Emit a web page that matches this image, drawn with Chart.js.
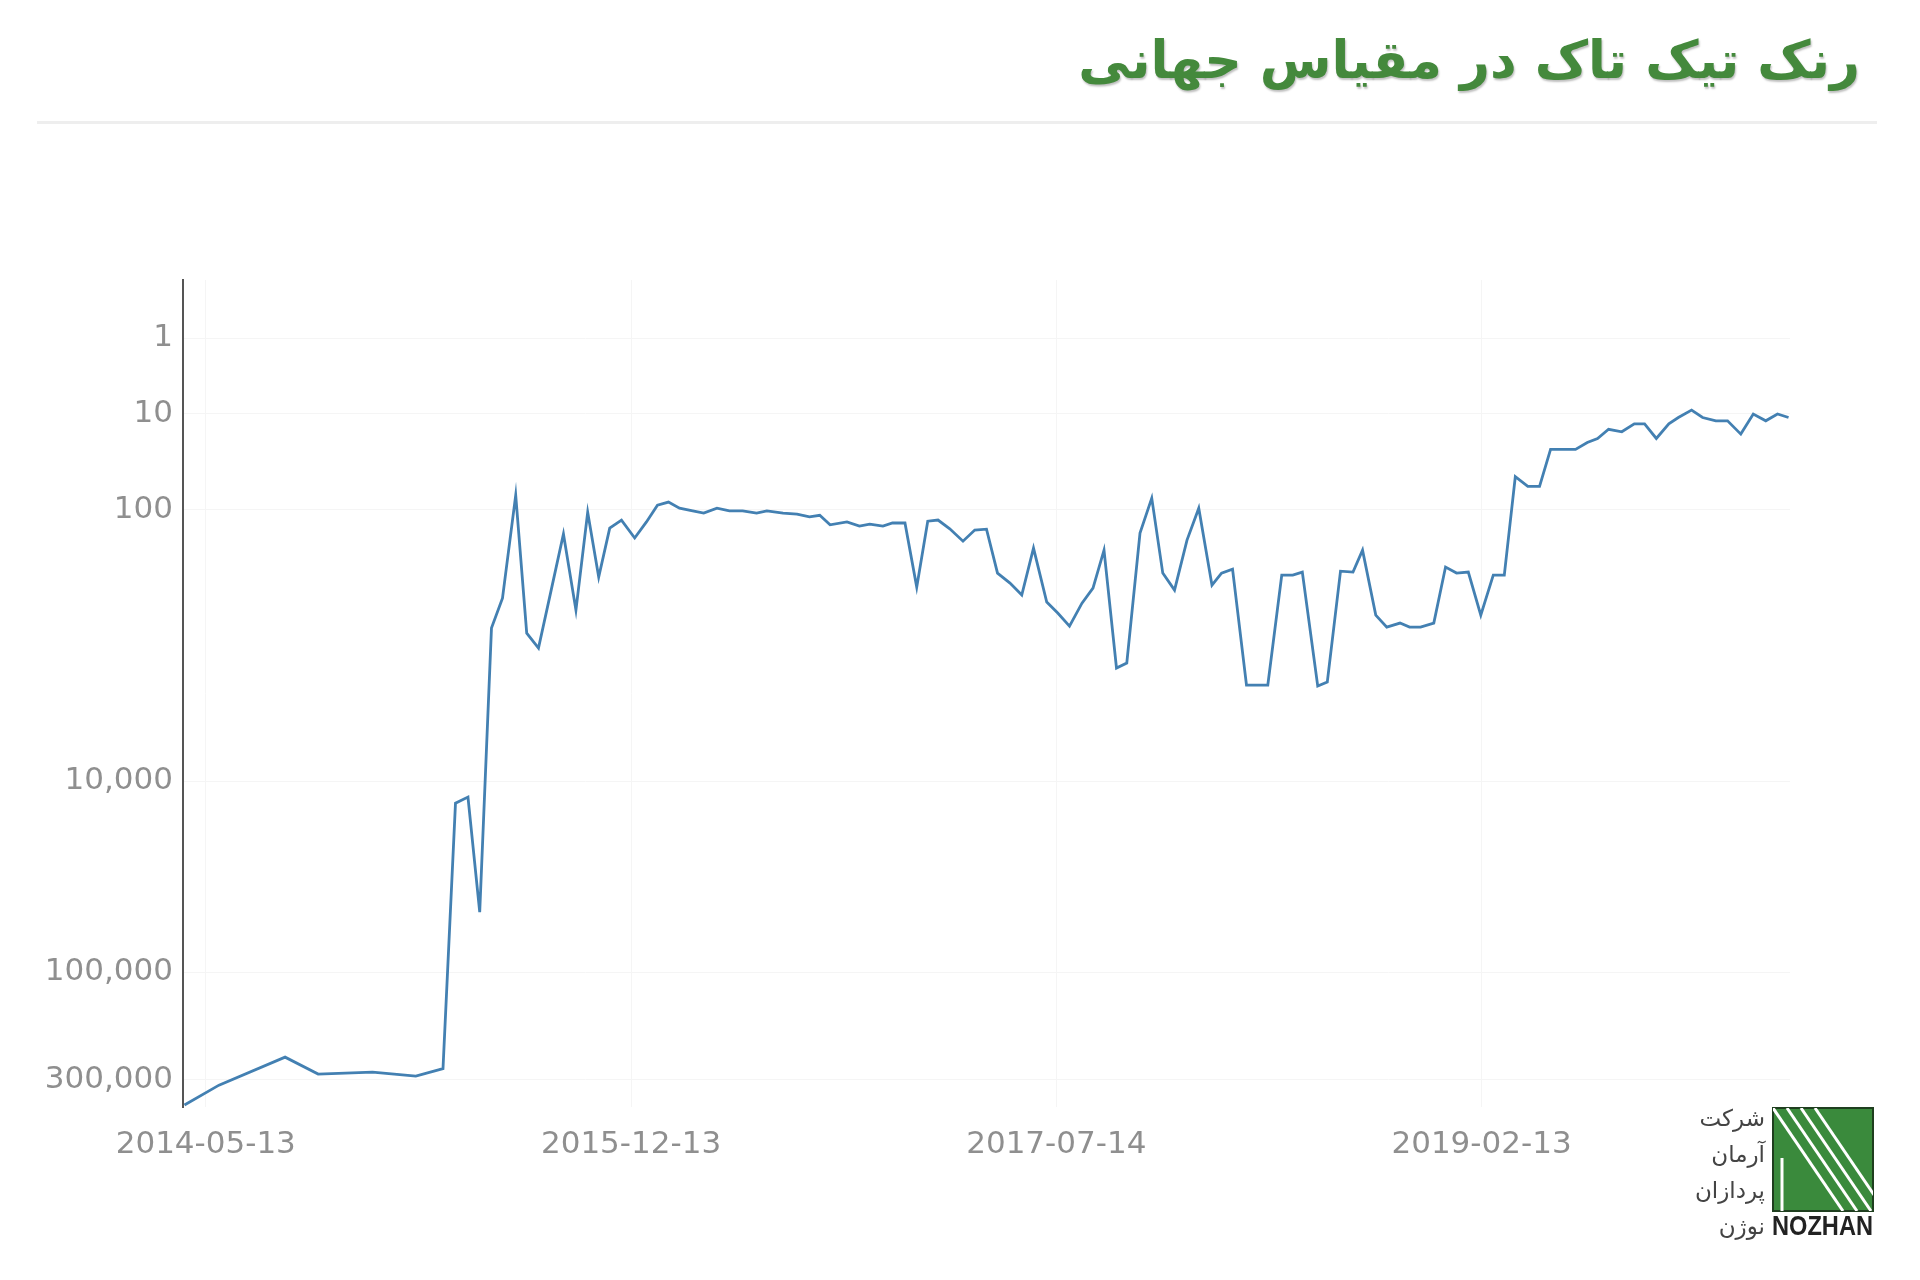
<!DOCTYPE html>
<html lang="fa">
<head>
<meta charset="utf-8">
<title>رنک تیک تاک در مقیاس جهانی</title>
<script src="https://cdn.jsdelivr.net/npm/chart.js@4.4.1/dist/chart.umd.min.js"></script>
<style>
  html, body { margin: 0; padding: 0; background: #fff; }
  body { width: 1920px; height: 1280px; position: relative; overflow: hidden; font-family: "DejaVu Sans", sans-serif; }
  #title { position: absolute; right: 60px; top: 30px; color: #44893c; font-size: 52px; font-weight: bold;
           direction: rtl; white-space: nowrap; text-shadow: 1px 2px 2px rgba(0, 0, 0, 0.25); z-index: 2; }
  #rule { position: absolute; left: 37px; width: 1840px; top: 121px; height: 3px; background: #eeeeee; z-index: 2; }
  #chart { position: absolute; left: 0; top: 0; }
  #logoText { position: absolute; right: 155px; top: 1100px; direction: rtl; text-align: right;
              font-size: 23px; line-height: 36px; color: #444; z-index: 2; }
  #logo { position: absolute; left: 1768px; top: 1103px; z-index: 2; }
</style>
</head>
<body>
<div id="title">رنک تیک تاک در مقیاس جهانی</div>
<div id="rule"></div>
<canvas id="chart" width="1920" height="1280"></canvas>
<div id="logoText">شرکت<br>آرمان<br>پردازان<br>نوژن</div>
<svg id="logo" width="112" height="140">
  <defs><clipPath id="sq"><rect x="5" y="5" width="100" height="103"/></clipPath></defs>
  <rect x="5" y="5" width="100" height="103" fill="#3a8a3c" stroke="#1f3f1f" stroke-width="2"/>
  <g clip-path="url(#sq)" stroke="#ffffff" stroke-width="3">
    <line x1="5" y1="5" x2="75" y2="108"/>
    <line x1="19" y1="5" x2="89" y2="108"/>
    <line x1="33" y1="5" x2="103" y2="108"/>
    <line x1="47" y1="5" x2="117" y2="108"/>
    <line x1="14" y1="55" x2="14" y2="108"/>
  </g>
  <text x="4" y="132" font-family="Liberation Sans, Arial, sans-serif" font-weight="bold" font-size="27"
        textLength="101" lengthAdjust="spacingAndGlyphs" fill="#222">NOZHAN</text>
</svg>
<script>
// rank over time (lower = better)
const dates = [
  '2014-04-14', '2014-05-31', '2014-08-29', '2014-10-13', '2014-12-26', '2015-02-23', '2015-04-01', '2015-04-18', '2015-05-05', '2015-05-21',
  '2015-06-06', '2015-06-21', '2015-07-09', '2015-07-24', '2015-08-09', '2015-08-26', '2015-09-12', '2015-09-29', '2015-10-15', '2015-10-30',
  '2015-11-14', '2015-11-30', '2015-12-18', '2016-01-03', '2016-01-18', '2016-02-02', '2016-02-17', '2016-03-06', '2016-03-21', '2016-04-08',
  '2016-04-25', '2016-05-13', '2016-06-01', '2016-06-15', '2016-07-07', '2016-07-26', '2016-08-12', '2016-08-26', '2016-09-09', '2016-10-02',
  '2016-10-19', '2016-11-02', '2016-11-20', '2016-12-03', '2016-12-20', '2017-01-05', '2017-01-20', '2017-02-03', '2017-02-19', '2017-03-09',
  '2017-03-25', '2017-04-10', '2017-04-25', '2017-05-12', '2017-05-28', '2017-06-13', '2017-07-01', '2017-07-16', '2017-08-01', '2017-08-18',
  '2017-09-02', '2017-09-17', '2017-10-04', '2017-10-18', '2017-11-05', '2017-11-21', '2017-12-06', '2017-12-22', '2018-01-08', '2018-01-24',
  '2018-02-11', '2018-02-24', '2018-03-11', '2018-03-30', '2018-04-13', '2018-04-28', '2018-05-17', '2018-06-01', '2018-06-14', '2018-07-05',
  '2018-07-18', '2018-08-05', '2018-08-22', '2018-09-04', '2018-09-22', '2018-10-07', '2018-10-25', '2018-11-07', '2018-11-22', '2018-12-10',
  '2018-12-26', '2019-01-10', '2019-01-26', '2019-02-12', '2019-03-01', '2019-03-16', '2019-03-31', '2019-04-17', '2019-05-03', '2019-05-18',
  '2019-06-05', '2019-06-21', '2019-07-07', '2019-07-21', '2019-08-05', '2019-08-23', '2019-09-09', '2019-09-23', '2019-10-09', '2019-10-26',
  '2019-11-08', '2019-11-26', '2019-12-11', '2019-12-29', '2020-01-14', '2020-02-01', '2020-02-18', '2020-03-06', '2020-03-22', '2020-04-06'
];
const ranks = [
  382000, 316000, 240500, 284000, 278600, 289600, 269300, 13380, 12350, 51240,
  970, 572, 73, 1056, 1358, 504, 167, 709, 106, 388,
  148, 125, 181, 130, 91, 85, 97, 103, 108, 97,
  103, 103, 108, 103, 108, 110, 117, 113, 138, 130,
  142, 136, 142, 133, 133, 468, 128, 125, 150, 193,
  154, 151, 360, 434, 541, 222, 614, 747, 937, 626,
  476, 231, 1882, 1736, 164, 78, 360, 494, 189, 97,
  451, 360, 334, 2463, 2463, 2463, 374, 374, 353, 2502,
  2350, 347, 353, 231, 774, 953, 889, 953, 953, 889,
  321, 360, 353, 774, 374, 374, 48, 60, 60, 25,
  25, 25, 21, 19, 15, 16, 13, 13, 19, 13,
  11, 9, 11, 12, 12, 17, 10, 12, 10, 11
];
const xTickDates = ['2014-05-13', '2015-12-13', '2017-07-14', '2019-02-13'];
const yTickValues = [1, 10, 100, 10000, 100000, 300000];

// the rank axis is a power scale (v^0.1), not a log one
class PowerScale extends Chart.LinearScale {
    configure() {
        super.configure();
        const e = this.options.exponent;
        this._powStart = Math.pow(this.min, e);
        this._powRange = Math.pow(this.max, e) - this._powStart;
    }
    getPixelForValue(value) {
        if (value === null || isNaN(value)) return NaN;
        const e = this.options.exponent;
        return this.getPixelForDecimal((Math.pow(value, e) - this._powStart) / this._powRange);
    }
    getValueForPixel(pixel) {
        const d = this.getDecimalForPixel(pixel);
        return Math.pow(this._powStart + d * this._powRange, 1 / this.options.exponent);
    }
}
PowerScale.id = 'power';
PowerScale.defaults = { exponent: 0.1 };
Chart.register(PowerScale);

const tickFont = { family: 'DejaVu Sans', size: 31 };
const tickColor = '#8f8f8f';

new Chart(document.getElementById('chart'), {
    type: 'line',
    data: {
        datasets: [{
            data: dates.map((d, i) => ({ x: Date.parse(d), y: ranks[i] })),
            borderColor: '#4380b2',
            borderWidth: 2.8,
            pointRadius: 0,
            tension: 0,
            fill: false
        }]
    },
    options: {
        responsive: false,
        animation: false,
        devicePixelRatio: 1,
        layout: { padding: { top: 280, right: 130, bottom: 0, left: 0 } },
        plugins: {
            legend: { display: false },
            tooltip: { enabled: false }
        },
        scales: {
            x: {
                type: 'linear',
                bounds: 'data',
                min: Date.parse('2014-04-12'),
                max: Date.parse('2020-04-08'),
                afterBuildTicks: (scale) => {
                    scale.ticks = xTickDates.map(d => ({ value: Date.parse(d) }));
                },
                afterFit: (scale) => { scale.height = 173; },
                ticks: {
                    autoSkip: false,
                    maxRotation: 0,
                    padding: 19,
                    color: tickColor,
                    font: tickFont,
                    callback: (v) => new Date(v).toISOString().slice(0, 10)
                },
                grid: { color: '#f5f5f5', lineWidth: 1, drawTicks: false },
                border: { display: false }
            },
            y: {
                type: 'power',
                exponent: 0.1,
                reverse: true,
                bounds: 'data',
                min: 0.11,
                max: 389000,
                afterBuildTicks: (scale) => {
                    scale.ticks = yTickValues.map(v => ({ value: v }));
                },
                afterFit: (scale) => { scale.width = 183; },
                ticks: {
                    autoSkip: false,
                    padding: 10,
                    color: tickColor,
                    font: tickFont,
                    callback: (v) => v.toLocaleString('en-US')
                },
                grid: { color: '#f5f5f5', lineWidth: 1, drawTicks: false },
                border: { display: true, color: '#555555', width: 2 }
            }
        }
    }
});
</script>
</body>
</html>
